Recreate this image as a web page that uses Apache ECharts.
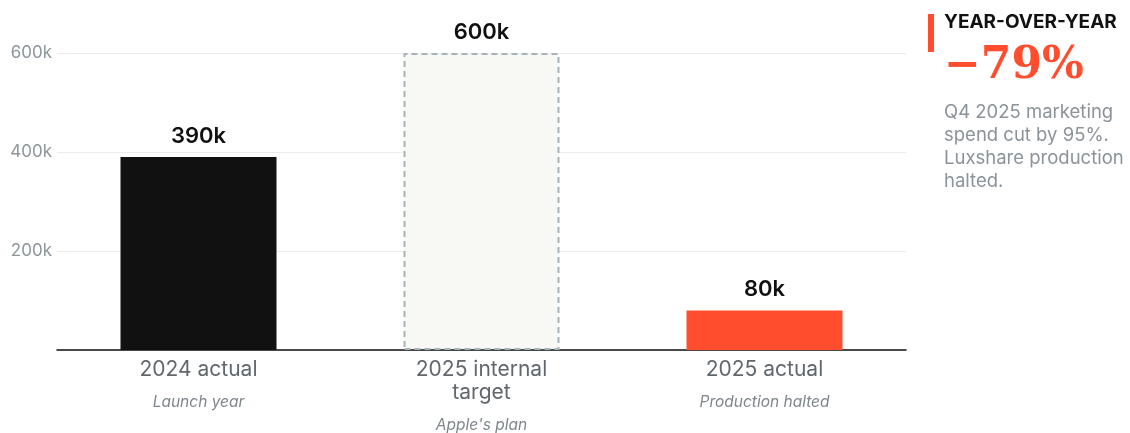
<!DOCTYPE html>
<html>
<head>
<meta charset="UTF-8">
<title>Unit volumes</title>
<script src="https://cdn.jsdelivr.net/npm/echarts@6/dist/echarts.min.js"></script>
<style>
  html, body { margin: 0; padding: 0; background: #fff; }
  #main { width: 1130px; height: 433px; }
</style>
</head>
<body>
<div id="main"></div>
<script>
// data
var categories = ['2024 actual', '2025 internal\ntarget', '2025 actual'];
var subtitles = ['Launch year', "Apple's plan", 'Production halted'];
var values = [390000, 600000, 80000];
var valueLabels = ['390k', '600k', '80k'];
var yTicks = [0, 200000, 400000, 600000];
var noteLines = ['Q4 2025 marketing', 'spend cut by 95%.', 'Luxshare production', 'halted.'];

var font = 'Inter, "Noto Sans", sans-serif';

var barStyles = [
  { color: '#111111' },
  { color: '#f8f9f4', borderColor: '#a3b4ba', borderWidth: 2, borderType: [6, 4] },
  { color: '#ff4d2e' }
];

var barData = values.map(function (v, i) {
  return { value: v, itemStyle: barStyles[i] };
});

var myChart = echarts.init(document.getElementById('main'));

var option = {
  animation: false,
  grid: { left: 57, right: 224, top: 53, bottom: 83, outerBoundsMode: 'none' },
  xAxis: {
    type: 'category',
    data: categories,
    axisLine: { lineStyle: { color: '#111', width: 1.5 } },
    axisTick: { show: false },
    axisLabel: {
      margin: 8,
      interval: 0,
      formatter: function (val, idx) {
        var lines = val.split('\n').map(function (s) { return '{a|' + s + '}'; });
        return lines.join('\n') + '\n{b|' + subtitles[idx] + '}';
      },
      rich: {
        a: { fontFamily: font, fontSize: 21, color: '#60686e', lineHeight: 23 },
        b: { fontFamily: font, fontSize: 15.5, fontStyle: 'italic', color: '#7d878c', lineHeight: 43 }
      }
    }
  },
  yAxis: {
    type: 'value',
    min: yTicks[0],
    max: yTicks[yTicks.length - 1],
    interval: 200000,
    axisLine: { show: false },
    axisTick: { show: false },
    splitLine: { lineStyle: { color: '#ececec', width: 1 } },
    axisLabel: {
      margin: 5,
      fontFamily: font,
      fontSize: 17,
      color: '#8c979c',
      formatter: function (v) { return v === 0 ? '' : (v / 1000) + 'k'; }
    }
  },
  series: [{
    type: 'bar',
    barWidth: 156,
    data: barData,
    label: {
      show: true,
      position: 'top',
      distance: 10,
      fontFamily: font,
      fontSize: 22,
      fontWeight: 600,
      color: '#111',
      formatter: function (p) { return valueLabels[p.dataIndex]; }
    }
  }],
  graphic: [
    { type: 'rect', shape: { x: 928, y: 14, width: 6, height: 38 }, style: { fill: '#ff4d2e' } },
    { type: 'text', left: 944, top: 13,
      style: { text: 'YEAR-OVER-YEAR', font: 'bold 19px ' + font, fill: '#111' } },
    { type: 'text', left: 944, top: 45,
      style: { text: '\u221279%', font: 'bold 44px "DejaVu Serif", serif', fill: '#ff4d2e' } },
    { type: 'text', left: 944, top: 101,
      style: { text: noteLines.join('\n'), font: '18.5px ' + font, fill: '#8a949a', lineHeight: 23 } }
  ]
};

myChart.setOption(option);
</script>
</body>
</html>
